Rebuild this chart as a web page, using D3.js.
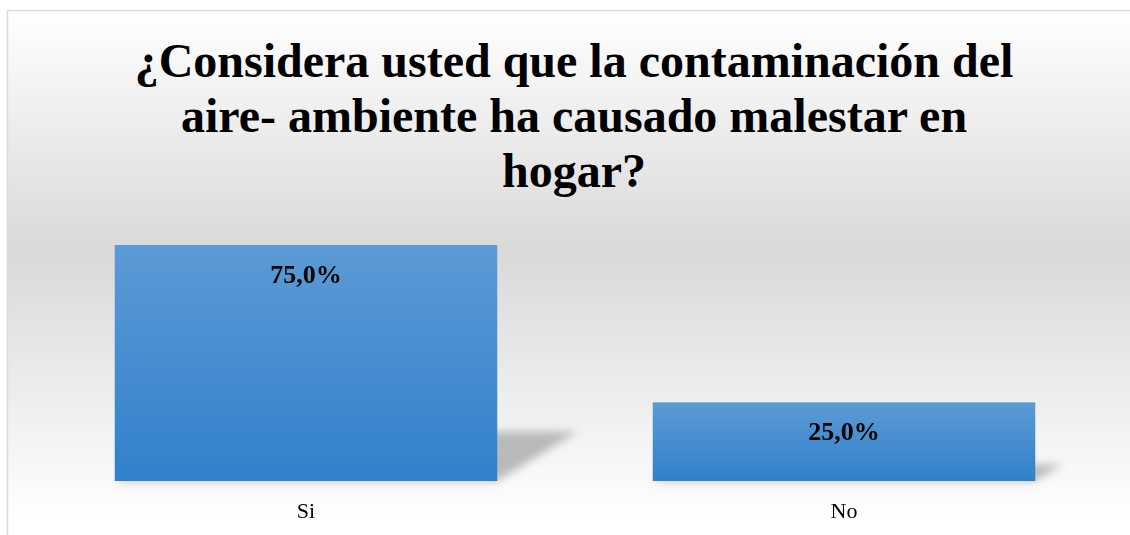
<!DOCTYPE html>
<html>
<head>
<meta charset="utf-8">
<script src="https://cdn.jsdelivr.net/npm/d3@7/dist/d3.min.js"></script>
<style>
  html, body { margin: 0; padding: 0; background: #ffffff; }
  svg { display: block; }
</style>
</head>
<body>
<svg id="chart" width="1130" height="535"></svg>
<script>
// Survey answers and their shares (percent)
const categories = ["Si", "No"];
const values = [75.0, 25.0];
const titleLines = [
  "¿Considera usted que la contaminación del",
  "aire- ambiente ha causado malestar en",
  "hogar?"
];
const fmt = v => v.toFixed(1).replace(".", ",") + "%";

const W = 1130, H = 535;
const svg = d3.select("#chart");
const defs = svg.append("defs");

// Chart-area background: white → light grey → white
const bg = defs.append("linearGradient").attr("id", "bgGrad")
  .attr("x1", 0).attr("y1", 0).attr("x2", 0).attr("y2", 1);
bg.append("stop").attr("offset", "0").attr("stop-color", "#ffffff");
bg.append("stop").attr("offset", "0.45").attr("stop-color", "#d9d9d9");
bg.append("stop").attr("offset", "0.95").attr("stop-color", "#ffffff");

// Bar fill gradient
const barGrad = defs.append("linearGradient").attr("id", "barGrad")
  .attr("x1", 0).attr("y1", 0).attr("x2", 0).attr("y2", 1);
barGrad.append("stop").attr("offset", "0").attr("stop-color", "#5b9bd5");
barGrad.append("stop").attr("offset", "1").attr("stop-color", "#3280cb");

// Soft blur for the perspective shadows
defs.append("filter").attr("id", "shadowBlur")
  .attr("x", "-20%").attr("y", "-50%").attr("width", "140%").attr("height", "200%")
  .append("feGaussianBlur").attr("stdDeviation", 4);

// Chart box (extends past the right and bottom window edges)
svg.append("rect")
  .attr("x", 7.5).attr("y", 10.5)
  .attr("width", 1135).attr("height", 535)
  .attr("fill", "url(#bgGrad)")
  .attr("stroke", "#d9d9d9").attr("stroke-width", 1.5);

// Title
const title = svg.append("text")
  .attr("text-anchor", "middle")
  .attr("font-family", "'Liberation Serif', 'Times New Roman', serif")
  .attr("font-weight", "bold")
  .attr("font-size", 48)
  .attr("fill", "#000");
titleLines.forEach((t, i) => {
  title.append("tspan").attr("x", 574).attr("y", 77 + i * 55).text(t);
});

// Scales
const plot = { left: 37, right: 1113, bottom: 481 };
const x = d3.scaleBand()
  .domain(categories)
  .range([plot.left, plot.right])
  .paddingInner(0.289)
  .paddingOuter(0.1445);
const y = d3.scaleLinear()
  .domain([0, 80])
  .range([plot.bottom, plot.bottom - 236 * 80 / 75]);

const data = categories.map((c, i) => ({ cat: c, val: values[i] }));

// Perspective shadows cast to the right of each bar
svg.append("g").attr("filter", "url(#shadowBlur)")
  .selectAll("path").data(data).enter().append("path")
  .attr("fill", "#a6a6a6")
  .attr("opacity", 0.75)
  .attr("d", d => {
    const x0 = x(d.cat), x1 = x0 + x.bandwidth();
    const yb = y(0), h = y(0) - y(d.val);
    const dx = h * 0.34, dy = h * 0.21;
    return `M${x0},${yb}L${x1},${yb}L${x1 + dx},${yb - dy}L${x0 + dx},${yb - dy}Z`;
  });

// Bars
svg.append("g").selectAll("rect").data(data).enter().append("rect")
  .attr("x", d => x(d.cat))
  .attr("y", d => y(d.val))
  .attr("width", x.bandwidth())
  .attr("height", d => y(0) - y(d.val))
  .attr("fill", "url(#barGrad)");

// Value labels inside the bars
svg.append("g").selectAll("text").data(data).enter().append("text")
  .attr("x", d => x(d.cat) + x.bandwidth() / 2)
  .attr("y", d => y(d.val) + 38)
  .attr("text-anchor", "middle")
  .attr("font-family", "'Liberation Serif', 'Times New Roman', serif")
  .attr("font-weight", "bold")
  .attr("font-size", 26)
  .attr("fill", "#000")
  .text(d => fmt(d.val));

// Category axis (labels only)
const xAxis = svg.append("g")
  .attr("transform", `translate(0,${plot.bottom})`)
  .call(d3.axisBottom(x).tickSize(0).tickPadding(0));
xAxis.select(".domain").remove();
xAxis.selectAll("text")
  .attr("dy", null)
  .attr("y", 37)
  .attr("font-family", "'Liberation Serif', 'Times New Roman', serif")
  .attr("font-size", 22)
  .attr("fill", "#000");
</script>
</body>
</html>
